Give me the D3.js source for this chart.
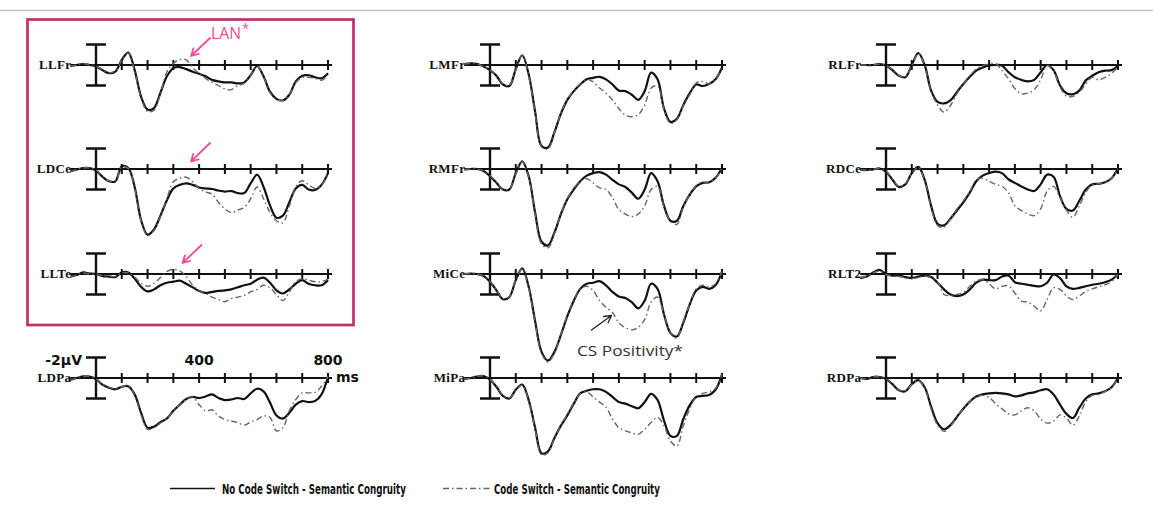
<!DOCTYPE html>
<html>
<head>
<meta charset="utf-8">
<script src="https://cdn.jsdelivr.net/npm/d3@7"></script>
<style>
  html, body { margin: 0; padding: 0; background: #fff; }
  svg { display: block; }
</style>
</head>
<body>
<svg id="chart" width="1153" height="512"></svg>
<script>
// Sampling grid (ms), -100 ms pre-stimulus baseline to 900 ms
const times = [-100, -75, -50, -25, 0, 25, 50, 75, 100, 125, 150, 175, 200, 225, 250, 275, 300, 325, 350, 375,
  400, 425, 450, 475, 500, 525, 550, 575, 600, 625, 650, 675, 700, 725, 750, 775, 800, 825, 850, 875, 900];

// Grand-average amplitudes (µV, positive plotted downward)
const llfrNoSwitch = [0.1, 0, -0.1, 0, 0.15, 0.5, 0.8, 0.65, -0.5, -1.2, 0.5, 3.1, 4.35, 4.2, 2.7, 1.1, 0.3, 0.2, 0.4, 0.65, 0.85, 1.1, 1.45, 1.6, 1.7, 1.7, 1.8, 1.7, 1.0, 0.1, 1.1, 2.6, 3.3, 3.45, 2.9, 1.6, 1.05, 1.0, 1.2, 1.3, 0.8];
const llfrSwitch   = [0.1, 0, -0.15, 0, 0.1, 0.45, 0.75, 0.6, -0.45, -1.15, 0.6, 3.2, 4.55, 4.4, 2.8, 0.65, -0.15, -0.55, -0.5, 0.3, 0.8, 1.3, 1.7, 2.0, 2.35, 2.4, 2.0, 1.8, 1.0, 0.1, 1.15, 2.7, 3.35, 3.45, 2.9, 1.7, 1.25, 1.2, 1.3, 1.5, 1.0];

const ldceNoSwitch = [0.25, 0.05, -0.1, -0.1, 0.15, 0.75, 1.2, 1.2, -0.25, -0.1, 1.75, 5.0, 6.4, 5.9, 4.55, 3.05, 1.9, 1.55, 1.4, 1.55, 1.8, 1.9, 1.95, 2.1, 2.2, 2.15, 2.35, 2.35, 1.4, 0.55, 1.75, 3.55, 4.75, 4.55, 3.25, 1.9, 1.55, 2.0, 2.05, 1.55, 0.4];
const ldceSwitch   = [0.25, 0.05, -0.1, -0.1, 0.1, 0.7, 1.15, 1.15, -0.2, -0.05, 1.9, 5.1, 6.5, 6.0, 4.6, 2.9, 1.25, 0.9, 0.8, 1.25, 1.9, 2.25, 2.45, 3.25, 3.9, 4.25, 4.0, 3.75, 2.9, 1.75, 2.9, 4.25, 5.05, 5.25, 3.6, 1.75, 1.15, 1.55, 1.9, 1.55, 0.4];

const llteNoSwitch = [0.25, 0.1, -0.15, -0.05, 0, 0.2, 0.25, 0.3, -0.15, -0.15, 0.45, 1.25, 1.7, 1.5, 1.1, 0.85, 0.75, 0.65, 0.95, 1.3, 1.65, 1.85, 1.75, 1.65, 1.6, 1.5, 1.3, 1.1, 0.95, 0.55, 0.35, 0.85, 1.6, 1.9, 1.5, 0.95, 0.6, 0.95, 1.1, 1.1, 0.6];
const llteSwitch   = [0.25, 0.1, -0.1, 0, 0, 0.15, 0.2, 0.25, -0.1, -0.1, 0.3, 0.9, 1.2, 0.9, 0.35, -0.25, -0.45, -0.3, 0.25, 1.1, 1.6, 1.9, 2.25, 2.5, 2.7, 2.4, 2.25, 2.1, 1.75, 1.5, 1.1, 1.35, 2.0, 2.6, 1.75, 0.75, 0.45, 0.6, 0.75, 0.75, 0.5];

const ldpaNoSwitch = [0.2, 0, -0.15, -0.15, 0.1, 0.65, 0.95, 1.1, 0.85, 0.8, 1.6, 3.4, 4.85, 4.75, 4.3, 3.95, 3.2, 2.6, 2.05, 1.85, 1.95, 1.8, 1.6, 1.95, 2.15, 2.1, 1.95, 2.05, 1.5, 1.05, 1.3, 2.4, 3.65, 3.95, 3.4, 2.6, 2.25, 2.35, 2.25, 1.6, -0.15];
const ldpaSwitch   = [0.2, 0, -0.15, -0.15, 0.1, 0.6, 0.9, 1.05, 0.85, 0.75, 1.7, 3.6, 5.0, 4.85, 4.4, 3.95, 3.2, 2.6, 2.05, 1.85, 2.6, 3.2, 3.1, 3.7, 4.05, 4.2, 4.35, 4.6, 4.3, 4.05, 3.7, 3.85, 5.15, 4.85, 3.2, 2.1, 1.45, 1.45, 1.4, 0.8, -0.15];

const lmfrNoSwitch = [-0.1, -0.15, -0.1, 0.15, 0.5, 1.05, 1.9, 2.05, 0.4, -0.95, 0.9, 4.55, 7.9, 8.05, 6.55, 4.75, 3.4, 2.55, 1.9, 1.4, 1.25, 1.15, 1.4, 1.9, 2.5, 2.55, 2.9, 3.4, 2.55, 0.75, 1.4, 4.25, 5.55, 5.25, 3.9, 2.75, 1.9, 2.05, 1.85, 1.4, 0.25];
const lmfrSwitch   = [-0.1, -0.15, -0.1, 0.15, 0.5, 1.0, 1.85, 2.0, 0.45, -0.9, 1.0, 4.7, 8.0, 8.2, 6.6, 4.7, 3.35, 2.5, 1.85, 1.4, 1.65, 2.25, 2.75, 3.4, 4.25, 4.9, 5.05, 4.85, 3.9, 2.25, 2.05, 4.35, 5.7, 5.35, 3.9, 2.9, 1.75, 1.6, 1.85, 1.4, 0.2];

const rmfrNoSwitch = [0.05, 0, 0, 0.2, 0.7, 1.35, 2.0, 2.0, 0.4, -0.75, 0.7, 4.25, 7.1, 7.45, 6.2, 4.4, 2.95, 2.0, 1.2, 0.65, 0.4, 0.3, 0.55, 1.05, 1.5, 1.75, 2.3, 2.9, 2.0, 0.4, 1.2, 3.6, 5.05, 5.05, 3.6, 2.5, 1.7, 1.35, 1.3, 0.85, -0.1];
const rmfrSwitch   = [0.05, 0, 0, 0.2, 0.65, 1.3, 1.95, 1.95, 0.45, -0.7, 0.8, 4.4, 7.3, 7.7, 6.3, 4.4, 2.9, 1.9, 1.2, 0.95, 1.35, 1.85, 2.0, 2.8, 3.95, 4.4, 4.65, 4.4, 3.6, 2.0, 1.7, 3.75, 5.1, 5.4, 3.7, 2.5, 1.6, 1.3, 1.35, 0.85, -0.1];

const miceNoSwitch = [0, -0.05, 0, 0.2, 0.75, 1.6, 2.45, 2.25, 0.6, -0.55, 1.25, 4.6, 7.6, 8.45, 7.6, 5.95, 4.1, 2.6, 1.45, 0.95, 0.85, 0.7, 1.1, 1.75, 2.2, 2.35, 2.75, 3.35, 2.6, 0.95, 1.45, 3.95, 5.75, 6.1, 4.75, 2.95, 1.6, 1.25, 1.45, 1.1, -0.25];
const miceSwitch   = [0, -0.05, 0, 0.2, 0.7, 1.55, 2.4, 2.2, 0.65, -0.5, 1.35, 4.75, 7.75, 8.6, 7.7, 5.9, 4.0, 2.55, 1.45, 1.2, 1.6, 2.6, 3.25, 3.75, 4.75, 5.25, 5.45, 5.2, 4.45, 2.75, 2.25, 3.95, 5.75, 6.25, 4.6, 2.95, 1.45, 1.1, 1.25, 0.95, -0.25];

const mipaNoSwitch = [0.1, 0, -0.15, -0.2, 0.15, 0.85, 1.75, 2.0, 1.15, 0.65, 2.15, 4.85, 7.35, 7.15, 5.85, 4.65, 3.65, 2.5, 1.5, 1.25, 1.1, 1.1, 1.35, 1.85, 2.35, 2.5, 2.75, 2.95, 2.35, 1.55, 2.15, 4.15, 5.65, 5.65, 4.0, 2.65, 1.85, 1.75, 1.65, 1.15, -0.35];
const mipaSwitch   = [0.1, 0, -0.15, -0.2, 0.15, 0.8, 1.7, 1.95, 1.2, 0.7, 2.25, 5.0, 7.5, 7.3, 5.9, 4.6, 3.55, 2.45, 1.55, 1.35, 1.85, 2.35, 2.85, 4.0, 4.85, 5.15, 5.35, 5.5, 5.0, 4.35, 3.85, 4.65, 6.15, 6.65, 4.65, 3.0, 1.85, 1.5, 1.35, 1.0, -0.35];

const rlfrNoSwitch = [0, 0, 0, -0.1, 0.05, 0.5, 1.05, 1.2, 0.0, -1.15, 0.0, 2.5, 3.6, 3.75, 3.45, 2.65, 1.85, 1.15, 0.55, 0.25, 0.05, 0, 0.05, 0.7, 1.2, 1.45, 1.6, 1.45, 0.7, 0, 0.5, 2.0, 2.75, 2.85, 2.5, 1.5, 1.05, 0.7, 0.55, 0.5, 0.05];
const rlfrSwitch   = [0, 0, 0, -0.1, 0.05, 0.45, 1.0, 1.15, 0.05, -1.1, 0.1, 2.6, 3.9, 4.6, 3.95, 2.8, 1.85, 1.05, 0.4, 0.05, -0.1, -0.15, 0.55, 1.35, 2.3, 2.8, 2.75, 2.4, 1.45, 0.05, 0.6, 2.15, 3.05, 3.05, 2.65, 1.85, 1.2, 1.45, 1.2, 0.8, 0.2];

const rdceNoSwitch = [0.1, 0.1, 0.05, -0.05, 0.25, 1.05, 1.75, 1.5, 0.4, -0.2, 1.05, 3.6, 5.35, 5.5, 4.85, 4.05, 3.25, 2.3, 1.2, 0.65, 0.4, 0.25, 0.4, 1.0, 1.35, 1.7, 2.0, 2.15, 1.5, 0.55, 0.75, 2.65, 3.9, 4.05, 3.1, 2.0, 1.5, 1.45, 1.3, 0.9, -0.05];
const rdceSwitch   = [0.1, 0.1, 0.05, -0.05, 0.2, 1.0, 1.7, 1.45, 0.45, -0.15, 1.15, 3.75, 5.5, 5.7, 4.9, 3.9, 3.1, 2.2, 1.05, 0.9, 1.2, 1.5, 1.7, 2.3, 3.6, 4.05, 4.4, 4.55, 3.9, 2.15, 1.7, 2.8, 4.0, 4.7, 3.6, 2.3, 1.5, 1.45, 1.3, 0.9, -0.05];

const rlt2NoSwitch = [0.4, 0.25, -0.15, -0.4, 0, 0.15, 0.15, 0.3, 0.4, 0.25, 0.15, 0.3, 0.85, 1.5, 2.0, 2.15, 2.0, 1.5, 0.85, 0.55, 0.6, 0.6, 0.25, 0.15, 0.8, 0.95, 1.05, 1.15, 1.2, 0.85, 0.05, 0.4, 1.2, 1.45, 1.35, 1.2, 1.05, 0.95, 0.8, 0.55, 0.05];
const rlt2Switch   = [0.35, 0.2, -0.1, -0.3, 0.05, 0.2, 0.25, 0.35, 0.45, 0.35, 0.2, 0.35, 0.75, 2.0, 2.1, 2.0, 1.8, 1.2, 0.7, 0.55, 0.95, 1.45, 1.2, 1.15, 1.85, 2.65, 2.75, 3.15, 3.6, 2.5, 1.35, 1.5, 2.15, 2.5, 2.15, 1.7, 1.45, 1.25, 1.05, 0.75, 0.05];

const rdpaNoSwitch = [0, 0.1, -0.1, -0.1, 0.1, 0.6, 1.2, 1.3, 0.6, 0.2, 0.9, 2.8, 4.4, 5.0, 4.6, 3.8, 3.0, 2.3, 1.8, 1.6, 1.5, 1.45, 1.5, 1.6, 1.8, 1.7, 1.5, 1.4, 1.2, 1.1, 1.6, 2.6, 3.5, 3.9, 2.9, 2.0, 1.6, 1.5, 1.3, 0.9, 0.0];
const rdpaSwitch   = [0, 0.1, -0.1, -0.1, 0.1, 0.55, 1.15, 1.25, 0.65, 0.25, 1.0, 3.0, 4.6, 5.2, 4.7, 3.8, 3.0, 2.3, 1.8, 1.7, 1.9, 2.5, 3.0, 3.5, 3.6, 3.2, 2.9, 3.2, 4.0, 4.4, 4.2, 3.6, 3.9, 4.6, 3.7, 2.3, 1.7, 1.6, 1.3, 0.9, 0.0];

// Electrode sites, arranged column by column
const electrodes = ["LLFr", "LDCe", "LLTe", "LDPa", "LMFr", "RMFr", "MiCe", "MiPa", "RLFr", "RDCe", "RLT2", "RDPa"];
const noSwitchSeries = [llfrNoSwitch, ldceNoSwitch, llteNoSwitch, ldpaNoSwitch, lmfrNoSwitch, rmfrNoSwitch, miceNoSwitch, mipaNoSwitch, rlfrNoSwitch, rdceNoSwitch, rlt2NoSwitch, rdpaNoSwitch];
const switchSeries   = [llfrSwitch, ldceSwitch, llteSwitch, ldpaSwitch, lmfrSwitch, rmfrSwitch, miceSwitch, mipaSwitch, rlfrSwitch, rdceSwitch, rlt2Switch, rdpaSwitch];

// Axis ticks every 100 ms, calibration bar ±2 µV
const tickMs = [100, 200, 300, 400, 500, 600, 700, 800, 900];
const calibUV = 2;
const calibLabel = "-2\u00b5V";
const timeLabels = ["400", "800"];
const timeLabelMs = [400, 900];
const unitLabel = "ms";

const legendLabels = ["No Code Switch - Semantic Congruity", "Code Switch - Semantic Congruity"];

// ---- layout ----
const colX = [96, 490, 886];          // x of stimulus onset per column
const rowY = [65, 169, 274, 378];     // baseline y per row
const spanPx = 232;                   // 0..900 ms
const uvPx = 10.25;                   // pixels per µV

const svg = d3.select("#chart");

// thin rule along the top edge
svg.append("line")
  .attr("x1", 0).attr("x2", 1153).attr("y1", 10.5).attr("y2", 10.5)
  .attr("stroke", "#c4c4c4").attr("stroke-width", 1.5);

const serif = "'Liberation Serif', 'DejaVu Serif', serif";
const boldSans = "'DejaVu Sans', 'Liberation Sans', sans-serif";

electrodes.forEach((name, i) => {
  const col = Math.floor(i / 4), row = i % 4;
  const x = d3.scaleLinear().domain([0, 900]).range([colX[col], colX[col] + spanPx]);
  const y = d3.scaleLinear().domain([-calibUV, calibUV]).range([rowY[row] - calibUV * uvPx, rowY[row] + calibUV * uvPx]);
  const g = svg.append("g");
  const y0 = y(0);

  // time axis with ticks
  g.append("line")
    .attr("x1", x(-100)).attr("x2", x(900) + 4)
    .attr("y1", y0).attr("y2", y0)
    .attr("stroke", "#111").attr("stroke-width", 2);
  g.selectAll("line.tick").data(tickMs).join("line")
    .attr("class", "tick")
    .attr("x1", d => x(d)).attr("x2", d => x(d))
    .attr("y1", y0 - 5).attr("y2", y0 + 5)
    .attr("stroke", "#111").attr("stroke-width", 2);

  // calibration bar at onset
  const bx = x(0);
  g.append("path")
    .attr("d", `M${bx - 10},${y(-calibUV)}H${bx + 10}M${bx},${y(-calibUV)}V${y(calibUV)}M${bx - 10},${y(calibUV)}H${bx + 10}`)
    .attr("fill", "none").attr("stroke", "#111").attr("stroke-width", 2.4);

  // electrode label
  g.append("text")
    .attr("x", x(-100) + 1).attr("y", y0 + 4)
    .attr("text-anchor", "end")
    .attr("font-family", serif).attr("font-weight", "bold")
    .attr("font-size", 13).attr("letter-spacing", 0.3)
    .attr("fill", "#111")
    .text(name);

  const line = d3.line()
    .x((d, k) => x(times[k]))
    .y(d => y(d))
    .curve(d3.curveCatmullRom.alpha(0.5));

  g.append("path")
    .attr("d", line(noSwitchSeries[i]))
    .attr("fill", "none").attr("stroke", "#111").attr("stroke-width", 2.2)
    .attr("stroke-linejoin", "round");
  g.append("path")
    .attr("d", line(switchSeries[i]))
    .attr("fill", "none").attr("stroke", "#666").attr("stroke-width", 1.4)
    .attr("stroke-dasharray", "6,3,1.5,3");

  // scale annotation on the bottom-left site
  if (name === "LDPa") {
    g.append("text")
      .attr("x", bx - 14).attr("y", y(-calibUV) + 7)
      .attr("text-anchor", "end")
      .attr("font-family", boldSans).attr("font-weight", "bold").attr("font-size", 14)
      .attr("fill", "#111").text(calibLabel);
    g.selectAll("text.tl").data(timeLabels).join("text")
      .attr("class", "tl")
      .attr("x", (d, k) => x(timeLabelMs[k])).attr("y", y0 - 13)
      .attr("text-anchor", "middle")
      .attr("font-family", boldSans).attr("font-weight", "bold").attr("font-size", 14)
      .attr("fill", "#111").text(d => d);
    g.append("text")
      .attr("x", x(900) + 8).attr("y", y0 + 4)
      .attr("font-family", boldSans).attr("font-weight", "bold").attr("font-size", 14)
      .attr("fill", "#111").text(unitLabel);
  }
});

// highlight box around the left lateral sites
svg.append("rect")
  .attr("x", 27.5).attr("y", 19.5).attr("width", 326).attr("height", 305.5)
  .attr("fill", "none").attr("stroke", "#c1306b").attr("stroke-width", 2.7);

// arrow helper
function arrow(x1, y1, x2, y2, color, width) {
  const a = Math.atan2(y2 - y1, x2 - x1), h = 8, s = 0.5;
  const p = d3.path();
  p.moveTo(x1, y1); p.lineTo(x2, y2);
  p.moveTo(x2 - h * Math.cos(a - s), y2 - h * Math.sin(a - s)); p.lineTo(x2, y2);
  p.lineTo(x2 - h * Math.cos(a + s), y2 - h * Math.sin(a + s));
  svg.append("path").attr("d", p.toString())
    .attr("fill", "none").attr("stroke", color).attr("stroke-width", width)
    .attr("stroke-linecap", "round").attr("stroke-linejoin", "round");
}

// text squeezed horizontally to a given width
function fittedText(x, y, str, size, width, family, weight, color) {
  const t = svg.append("text")
    .attr("font-family", family).attr("font-weight", weight).attr("font-size", size)
    .attr("fill", color).text(str);
  const natural = t.node().getComputedTextLength();
  t.attr("transform", `translate(${x},${y}) scale(${width / natural},1)`);
  return t;
}

const pink = "#ef4f8f";
arrow(210, 38, 191, 56, pink, 1.8);
arrow(210, 143, 191, 161.5, pink, 1.8);
arrow(201.5, 245, 182.5, 263, pink, 1.8);

const noteFont = "'Open Sans', 'Liberation Sans', sans-serif";
fittedText(211, 38.5, "LAN", 16, 30, noteFont, "normal", pink);
svg.append("text")
  .attr("x", 242).attr("y", 33)
  .attr("font-family", noteFont).attr("font-size", 13)
  .attr("fill", pink).text("*");

arrow(591.5, 330, 611.5, 315.5, "#222", 1.3);
fittedText(577, 356, "CS Positivity*", 14.5, 106, noteFont, "normal", "#333");

// legend
const legendFont = "'DejaVu Sans', 'Liberation Sans', sans-serif";
svg.append("line")
  .attr("x1", 170).attr("x2", 215).attr("y1", 488.5).attr("y2", 488.5)
  .attr("stroke", "#111").attr("stroke-width", 1.4);
fittedText(222, 493.5, legendLabels[0], 14.5, 184, legendFont, "bold", "#111");
svg.append("line")
  .attr("x1", 443).attr("x2", 490).attr("y1", 488.5).attr("y2", 488.5)
  .attr("stroke", "#666").attr("stroke-width", 1.4)
  .attr("stroke-dasharray", "6,3,1.5,3");
fittedText(494, 493.5, legendLabels[1], 14.5, 166, legendFont, "bold", "#111");
</script>
</body>
</html>
